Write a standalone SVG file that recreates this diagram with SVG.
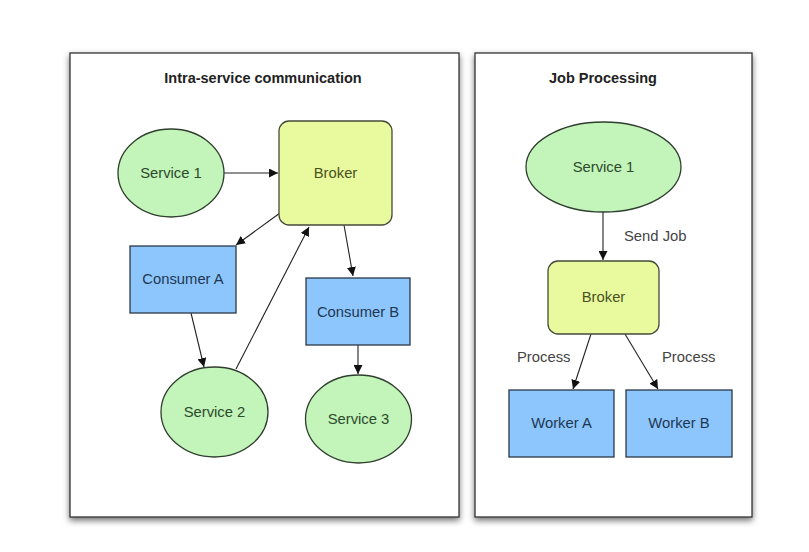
<svg xmlns="http://www.w3.org/2000/svg" width="809" height="552" viewBox="0 0 809 552">
<defs>
<filter id="sh" x="-10%" y="-10%" width="120%" height="120%">
<feDropShadow dx="0" dy="3" stdDeviation="3" flood-color="#000" flood-opacity="0.55"/>
</filter>
<marker id="ah" viewBox="0 0 10 10" refX="10" refY="5" markerWidth="9" markerHeight="9" markerUnits="userSpaceOnUse" orient="auto">
<path d="M0,0 L10,5 L0,10 z" fill="#111"/>
</marker>
<style>
.panel{fill:#fff;stroke:#333;stroke-width:1.3}
.title{font-family:"Liberation Sans",Arial,sans-serif;font-weight:bold;font-size:14.5px;fill:#222;text-anchor:middle}
.svc{fill:#c3f4b9;stroke:#2f3f2f;stroke-width:1.3}
.brk{fill:#e8f99e;stroke:#454a38;stroke-width:1.3}
.box{fill:#8cc6fc;stroke:#2a3848;stroke-width:1.3}
.t{font-family:"Liberation Sans",Arial,sans-serif;font-size:14.8px;text-anchor:middle}
.ts{fill:#2c4a2c}
.tb{fill:#4a5222}
.tc{fill:#1f3752}
.lbl{font-family:"Liberation Sans",Arial,sans-serif;font-size:14.8px;fill:#444}
.e{stroke:#222;stroke-width:1.1;fill:none;marker-end:url(#ah)}
</style>
</defs>
<rect width="809" height="552" fill="#fff"/>
<g id="panel-left">
<rect class="panel" x="70" y="53" width="389" height="464" filter="url(#sh)"/>
<text class="title" x="263" y="83">Intra-service communication</text>
</g>
<g id="panel-right">
<rect class="panel" x="475" y="53" width="277" height="464" filter="url(#sh)"/>
<text class="title" x="603" y="83">Job Processing</text>
</g>
<g id="connectors">
<line class="e" x1="224" y1="173" x2="278" y2="173"/>
<line class="e" x1="280" y1="213" x2="236" y2="245"/>
<line class="e" x1="236" y1="369" x2="309" y2="227"/>
<line class="e" x1="344" y1="225" x2="353" y2="276"/>
<line class="e" x1="191" y1="313" x2="204" y2="367"/>
<line class="e" x1="358" y1="345" x2="358" y2="374"/>
<line class="e" x1="603" y1="212" x2="603" y2="260"/>
<line class="e" x1="591" y1="334" x2="573" y2="389"/>
<line class="e" x1="625" y1="334" x2="658" y2="389"/>
<text class="lbl" x="624" y="241">Send Job</text>
<text class="lbl" x="517" y="362">Process</text>
<text class="lbl" x="662" y="362">Process</text>
</g>
<g id="l-service1">
<ellipse class="svc" cx="171" cy="173" rx="53" ry="44"/>
<text class="t ts" x="171" y="178">Service 1</text>
</g>
<g id="l-broker">
<rect class="brk" x="279" y="121" width="113" height="104" rx="10"/>
<text class="t tb" x="335.5" y="178">Broker</text>
</g>
<g id="l-consumerA">
<rect class="box" x="130" y="246" width="106" height="67"/>
<text class="t tc" x="183" y="284">Consumer A</text>
</g>
<g id="l-consumerB">
<rect class="box" x="306" y="278" width="104" height="67"/>
<text class="t tc" x="358" y="317">Consumer B</text>
</g>
<g id="l-service2">
<ellipse class="svc" cx="214.5" cy="412" rx="53.5" ry="45"/>
<text class="t ts" x="214.5" y="417">Service 2</text>
</g>
<g id="l-service3">
<ellipse class="svc" cx="358.5" cy="419" rx="53" ry="44"/>
<text class="t ts" x="358.5" y="424">Service 3</text>
</g>
<g id="r-service1">
<ellipse class="svc" cx="603.5" cy="167" rx="77.5" ry="45"/>
<text class="t ts" x="603.5" y="172">Service 1</text>
</g>
<g id="r-broker">
<rect class="brk" x="548" y="261" width="111" height="73" rx="10"/>
<text class="t tb" x="603.5" y="302">Broker</text>
</g>
<g id="r-workerA">
<rect class="box" x="509" y="390" width="105" height="67"/>
<text class="t tc" x="561.5" y="428">Worker A</text>
</g>
<g id="r-workerB">
<rect class="box" x="626" y="390" width="106" height="67"/>
<text class="t tc" x="679" y="428">Worker B</text>
</g>
</svg>
